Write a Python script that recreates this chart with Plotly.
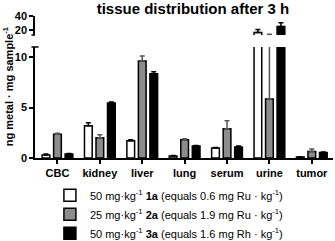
import plotly.graph_objects as go

categories = ["CBC", "kidney", "liver", "lung", "serum", "urine", "tumor"]

series_names = [
    "50 mg·kg<sup>-1</sup> <b>1a</b> (equals 0.6 mg Ru · kg<sup>-1</sup>)",
    "25 mg·kg<sup>-1</sup> <b>2a</b> (equals 1.9 mg Ru · kg<sup>-1</sup>)",
    "50 mg·kg<sup>-1</sup> <b>3a</b> (equals 1.6 mg Rh · kg<sup>-1</sup>)",
]
vals_1a = [0.3, 3.2, 1.7, 0.2, 1.0, 16.5, 0.1]
vals_2a = [2.35, 2.0, 9.6, 1.8, 2.9, 5.85, 0.65]
vals_3a = [0.4, 5.45, 8.35, 1.2, 1.1, 25.0, 0.55]
err_1a = [0.1, 0.3, 0.1, 0.05, 0.05, 4.5, 0.03]
err_2a = [0.1, 0.3, 0.5, 0.1, 0.8, 8.4, 0.25]
err_3a = [0.05, 0.1, 0.2, 0.05, 0.08, 5.5, 0.05]

fills = ["#ffffff", "#8c8c8c", "#000000"]
err_colors = ["#000000", "#555555", "#000000"]

lower_ticks = [0, 5, 10]
upper_ticks = [20, 40]

FONT = "Arial, Liberation Sans, sans-serif"

fig = go.Figure()
all_vals = [vals_1a, vals_2a, vals_3a]
all_errs = [err_1a, err_2a, err_3a]
for yax, show in (("y", True), ("y2", False)):
    for i in range(3):
        fig.add_trace(go.Bar(
            x=categories, y=all_vals[i], name=series_names[i],
            xaxis="x", yaxis=yax, showlegend=show,
            marker=dict(color=fills[i], line=dict(color="#000000", width=1.5)),
            error_y=dict(type="data", array=all_errs[i], symmetric=False,
                         arrayminus=[0] * len(categories),
                         color=err_colors[i], thickness=1.5, width=2.5),
        ))

axis_common = dict(showline=True, linecolor="#000000", linewidth=1.5,
                   ticks="outside", ticklen=4, tickwidth=1.5, tickcolor="#000000",
                   tickfont=dict(size=11, family=FONT, weight="bold"),
                   showgrid=False, zeroline=False, automargin=False)

fig.update_layout(
    width=335, height=241,
    margin=dict(l=35, r=2, t=16, b=83, autoexpand=False),
    paper_bgcolor="white", plot_bgcolor="white",
    font=dict(family=FONT, size=11, color="#000000"),
    barmode="group", bargap=0.185, bargroupgap=0.33,
    title=dict(text="<b>tissue distribution after 3 h</b>", x=0.576, xref="container",
               xanchor="center", y=0.965, yref="container", yanchor="middle",
               font=dict(size=15, family=FONT)),
    xaxis=dict(range=[-0.53, 6.5], anchor="y", **axis_common),
    yaxis=dict(domain=[0, 0.782], range=[0, 11], tickvals=lower_ticks, anchor="x",
               **axis_common),
    yaxis2=dict(domain=[0.866, 1.0], range=[13, 40], tickvals=upper_ticks, anchor="x",
                **axis_common),
    legend=dict(x=0.149, y=0.25, xref="container", yref="container",
                xanchor="left", yanchor="top",
                font=dict(size=11, family=FONT), bgcolor="rgba(0,0,0,0)",
                traceorder="normal", itemclick=False),
    showlegend=True,
)

# y-axis title
fig.add_annotation(text="<b>ng metal · mg sample<sup>-1</sup></b>", textangle=-90,
                   xref="paper", yref="paper", x=-0.09, y=0.507,
                   xanchor="center", yanchor="middle", showarrow=False,
                   font=dict(size=11, family=FONT))

# axis break marks
fig.add_shape(type="line", xref="paper", yref="paper", x0=-0.012, x1=0.012,
              y0=0.782, y1=0.782, line=dict(color="#000000", width=1.5))
fig.add_shape(type="line", xref="paper", yref="paper", x0=-0.012, x1=0.0,
              y0=0.866, y1=0.866, line=dict(color="#000000", width=1.5))

fig.write_html("out.html", config={"displayModeBar": False},
               post_script="document.body.style.margin='0';")
